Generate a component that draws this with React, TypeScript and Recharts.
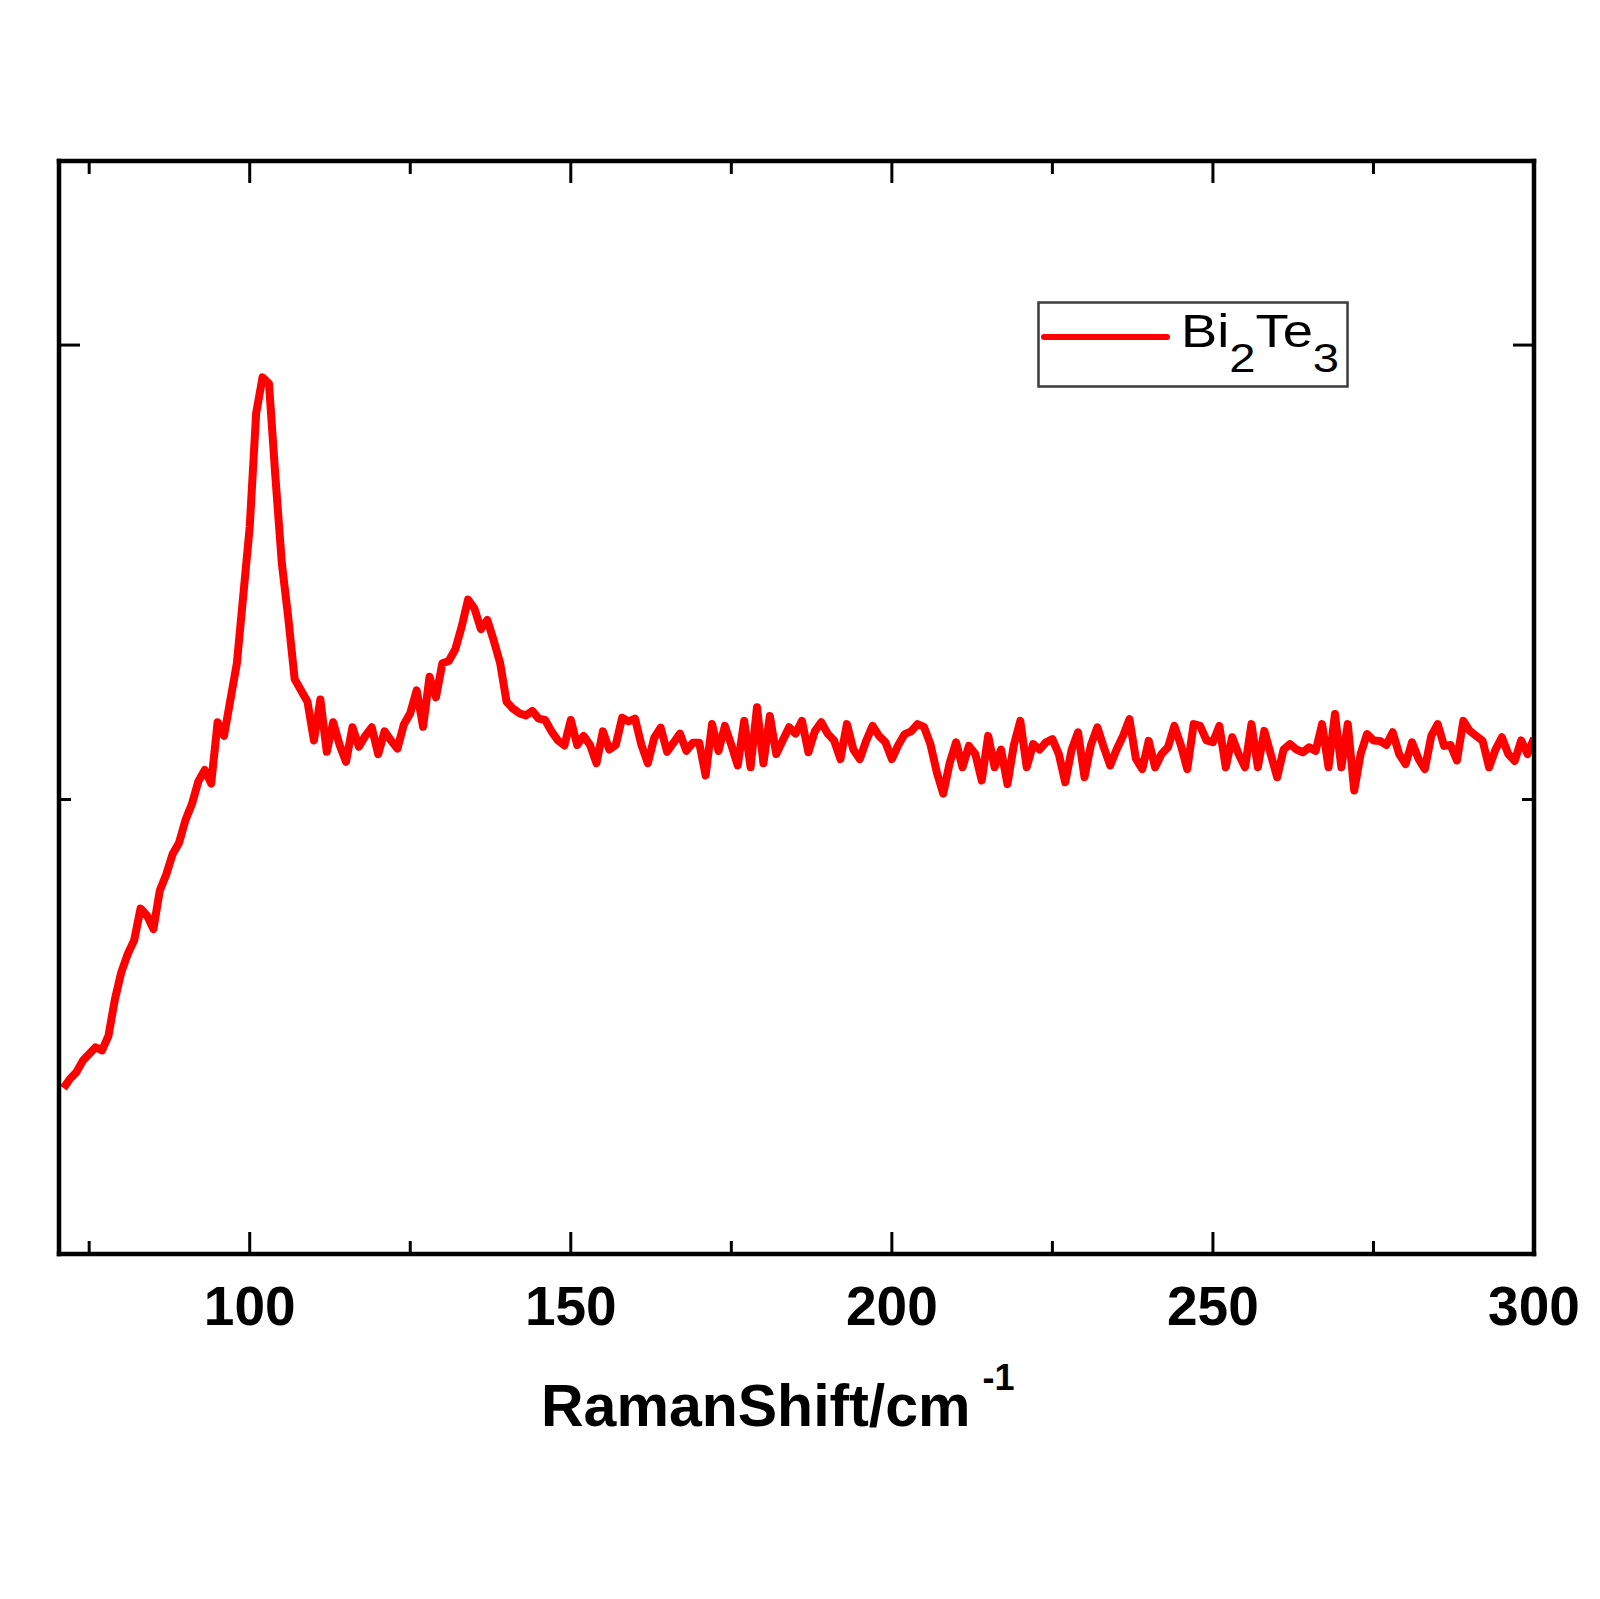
import React from 'react';
import { LineChart, Line, XAxis, YAxis, Legend } from 'recharts';

// Raman shift (cm^-1), one reading per wavenumber
const ramanShift = [
  71, 72, 73, 74, 75, 76, 77, 78, 79, 80,
  81, 82, 83, 84, 85, 86, 87, 88, 89, 90,
  91, 92, 93, 94, 95, 96, 97, 98, 99, 100,
  101, 102, 103, 104, 105, 106, 107, 108, 109, 110,
  111, 112, 113, 114, 115, 116, 117, 118, 119, 120,
  121, 122, 123, 124, 125, 126, 127, 128, 129, 130,
  131, 132, 133, 134, 135, 136, 137, 138, 139, 140,
  141, 142, 143, 144, 145, 146, 147, 148, 149, 150,
  151, 152, 153, 154, 155, 156, 157, 158, 159, 160,
  161, 162, 163, 164, 165, 166, 167, 168, 169, 170,
  171, 172, 173, 174, 175, 176, 177, 178, 179, 180,
  181, 182, 183, 184, 185, 186, 187, 188, 189, 190,
  191, 192, 193, 194, 195, 196, 197, 198, 199, 200,
  201, 202, 203, 204, 205, 206, 207, 208, 209, 210,
  211, 212, 213, 214, 215, 216, 217, 218, 219, 220,
  221, 222, 223, 224, 225, 226, 227, 228, 229, 230,
  231, 232, 233, 234, 235, 236, 237, 238, 239, 240,
  241, 242, 243, 244, 245, 246, 247, 248, 249, 250,
  251, 252, 253, 254, 255, 256, 257, 258, 259, 260,
  261, 262, 263, 264, 265, 266, 267, 268, 269, 270,
  271, 272, 273, 274, 275, 276, 277, 278, 279, 280,
  281, 282, 283, 284, 285, 286, 287, 288, 289, 290,
  291, 292, 293, 294, 295, 296, 297, 298, 299, 300,
];

// Bi2Te3 intensity (a.u.)
const bi2te3 = [
  365, 385, 400, 425, 440, 455, 448, 480, 560, 620,
  660, 690, 760, 745, 715, 800, 835, 880, 905, 955,
  990, 1040, 1065, 1035, 1170, 1140, 1220, 1300, 1450, 1600,
  1850, 1929, 1915, 1710, 1520, 1400, 1265, 1240, 1215, 1130,
  1220, 1105, 1170, 1120, 1083, 1159, 1116, 1140, 1159, 1100,
  1150, 1130, 1112, 1165, 1190, 1240, 1160, 1270, 1225, 1300,
  1305, 1330, 1380, 1440, 1420, 1375, 1395, 1350, 1300, 1215,
  1200, 1190, 1185, 1195, 1178, 1175, 1150, 1130, 1119, 1175,
  1120, 1140, 1120, 1080, 1150, 1110, 1120, 1180, 1172, 1178,
  1120, 1080, 1136, 1158, 1105, 1125, 1145, 1107, 1125, 1125,
  1053, 1166, 1107, 1162, 1120, 1075, 1173, 1071, 1203, 1080,
  1184, 1100, 1130, 1159, 1145, 1173, 1104, 1150, 1170, 1145,
  1130, 1089, 1166, 1110, 1089, 1129, 1162, 1140, 1126, 1089,
  1120, 1144, 1150, 1166, 1160, 1122, 1060, 1013, 1080, 1126,
  1071, 1118, 1100, 1042, 1140, 1071, 1110, 1034, 1120, 1173,
  1071, 1122, 1110, 1126, 1133, 1100, 1038, 1110, 1148, 1049,
  1120, 1159, 1115, 1075, 1110, 1140, 1177, 1090, 1067, 1129,
  1071, 1100, 1115, 1162, 1120, 1067, 1166, 1162, 1130, 1126,
  1162, 1071, 1137, 1100, 1071, 1166, 1071, 1151, 1100, 1049,
  1110, 1122, 1110, 1104, 1115, 1107, 1166, 1071, 1188, 1071,
  1166, 1020, 1100, 1144, 1130, 1129, 1120, 1148, 1100, 1078,
  1126, 1090, 1067, 1140, 1166, 1118, 1120, 1086, 1173, 1151,
  1140, 1129, 1071, 1110, 1137, 1100, 1085, 1130, 1100, 1135,
];

const xMajorTicks = [100, 150, 200, 250, 300];
const xMinorTicks = [75, 125, 175, 225, 275];
const yMajorTicks = [0, 2000];
const yMinorTicks = [1000];

const data = ramanShift.map((shift, i) => ({ shift, intensity: bi2te3[i] }));
const xTicks = [...xMinorTicks, ...xMajorTicks].sort((a, b) => a - b);
const yTicks = [...yMajorTicks, ...yMinorTicks].sort((a, b) => a - b);

const FONT = '"Liberation Sans", Arial, sans-serif';
const INK = '#000';

const BottomTick = (props: any) => {
  const { x, y, payload } = props;
  const major = xMajorTicks.includes(payload.value);
  return (
    <g>
      <line x1={x} x2={x} y1={y} y2={y - (major ? 22 : 13)} stroke={INK} strokeWidth={3} />
      {major && (
        <text x={x} y={y + 71} textAnchor="middle" fontFamily={FONT} fontWeight="bold" fontSize={55} fill={INK}>
          {payload.value}
        </text>
      )}
    </g>
  );
};

const TopTick = (props: any) => {
  const { x, y, payload } = props;
  const major = xMajorTicks.includes(payload.value);
  return <line x1={x} x2={x} y1={y} y2={y + (major ? 22 : 13)} stroke={INK} strokeWidth={3} />;
};

const LeftTick = (props: any) => {
  const { x, y, payload } = props;
  const major = yMajorTicks.includes(payload.value);
  return <line x1={x} x2={x + (major ? 21 : 12)} y1={y} y2={y} stroke={INK} strokeWidth={3} />;
};

const RightTick = (props: any) => {
  const { x, y, payload } = props;
  const major = yMajorTicks.includes(payload.value);
  return <line x1={x} x2={x - (major ? 21 : 12)} y1={y} y2={y} stroke={INK} strokeWidth={3} />;
};

const AxisTitle = () => (
  <text x={541} y={1426} fontFamily={FONT} fontWeight="bold" fontSize={59} fill={INK}>
    RamanShift/cm
    <tspan dx={12} dy={-36} fontSize={36}>-1</tspan>
  </text>
);

const LegendBox = (props: any) => {
  const color = props.payload?.[0]?.color || '#ff0000';
  return (
    <svg width={312} height={88} style={{ display: 'block' }}>
      <rect x={1.5} y={1.5} width={309} height={84} fill="#fff" stroke="#3c3c3c" strokeWidth={2.5} />
      <line x1={7} x2={130} y1={36} y2={36} stroke={color} strokeWidth={6} strokeLinecap="round" />
      <text transform="translate(144,46) scale(1.18,1)" x={0} y={0} fontFamily={FONT} fontSize={46} fill={INK}>
        Bi
        <tspan dy={25} fontSize={40}>2</tspan>
        <tspan dy={-25} fontSize={46}>Te</tspan>
        <tspan dy={25} fontSize={40}>3</tspan>
      </text>
    </svg>
  );
};

const axisLine = { stroke: INK, strokeWidth: 4.5, strokeLinecap: 'square' as const };

export default function App() {
  return (
    <div style={{ position: 'absolute', left: 0, top: 0, width: 1600, height: 1599, background: '#fff' }}>
      <LineChart width={1600} height={1599} data={data} margin={{ top: 160, right: 65, bottom: 344, left: 58 }}>
        <XAxis
          xAxisId="bottom"
          dataKey="shift"
          type="number"
          domain={[70.3, 300]}
          allowDataOverflow
          ticks={xTicks}
          interval={0}
          height={1}
          tickSize={0}
          tickMargin={0}
          tickLine={false}
          axisLine={axisLine}
          tick={BottomTick}
          label={<AxisTitle />}
        />
        <XAxis
          xAxisId="top"
          orientation="top"
          dataKey="shift"
          type="number"
          domain={[70.3, 300]}
          allowDataOverflow
          ticks={xTicks}
          interval={0}
          height={1}
          tickSize={0}
          tickMargin={0}
          tickLine={false}
          axisLine={axisLine}
          tick={TopTick}
        />
        <YAxis
          yAxisId="left"
          dataKey="intensity"
          type="number"
          domain={[0, 2405]}
          allowDataOverflow
          ticks={yTicks}
          interval={0}
          width={1}
          tickSize={0}
          tickMargin={0}
          tickLine={false}
          axisLine={axisLine}
          tick={LeftTick}
        />
        <YAxis
          yAxisId="right"
          orientation="right"
          dataKey="intensity"
          type="number"
          domain={[0, 2405]}
          allowDataOverflow
          ticks={yTicks}
          interval={0}
          width={1}
          tickSize={0}
          tickMargin={0}
          tickLine={false}
          axisLine={axisLine}
          tick={RightTick}
        />
        <Legend
          layout="horizontal"
          verticalAlign="middle"
          align="center"
          content={LegendBox}
          wrapperStyle={{ position: 'absolute', left: 1037, top: 301, width: 312, height: 88 }}
        />
        <Line
          xAxisId="bottom"
          yAxisId="left"
          dataKey="intensity"
          name="Bi2Te3"
          type="linear"
          stroke="#ff0000"
          strokeWidth={8}
          strokeLinejoin="round"
          dot={false}
          activeDot={false}
          isAnimationActive={false}
        />
      </LineChart>
    </div>
  );
}
